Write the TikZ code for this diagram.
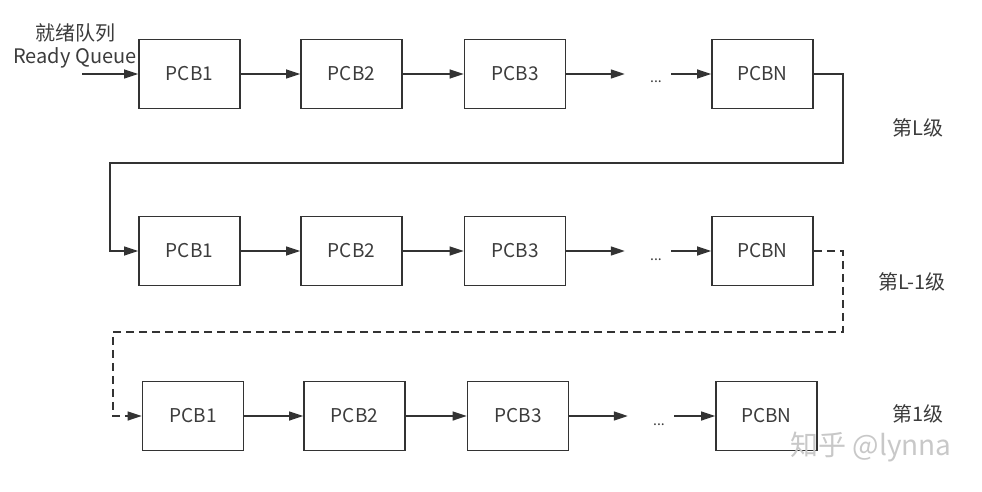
\documentclass[tikz,border=0pt]{standalone}
\usepackage{fontspec}
\setmainfont{Noto Sans CJK SC}
\usetikzlibrary{arrows.meta}
\definecolor{mgray}{HTML}{333333}
\definecolor{tgray}{HTML}{3C3C3C}
\definecolor{wgray}{HTML}{C8C8C8}
\tikzset{
  pcb/.style={draw=mgray, line width=1.6pt, minimum width=101pt, minimum height=69pt, inner sep=0pt, text=tgray, font=\fontsize{19}{22}\selectfont},
  link/.style={draw=mgray, line width=1.3pt, -{Triangle[length=14pt,width=9pt]}},
  ellip/.style={minimum width=30pt, inner sep=0pt, text height=18pt, text depth=0pt, text=tgray, font=\fontsize{14}{16}\selectfont},
  level/.style={text=tgray, font=\fontsize{20}{24}\selectfont},
}

\begin{document}
\begin{tikzpicture}[x=1pt, y=-1pt]
  \useasboundingbox (0,0) rectangle (982,492);

  % level L
  \node[level, align=center] (rq) at (75,46) {就绪队列\\[-1pt]Ready Queue};
  \coordinate (in) at (82,74);
  \node[pcb] (b11) at (189.5,74) {PCB1};
  \node[pcb] (b12) at (351.5,74) {PCB2};
  \node[pcb] (b13) at (515,74) {PCB3};
  \node[ellip] (d1) at (656,74) {...};
  \node[pcb] (b1N) at (762.5,74) {PCBN};
  \node[level] (lv1) at (918,128) {第L级};

  \draw[link] (in) -- (b11);
  \draw[link] (b11) -- (b12);
  \draw[link] (b12) -- (b13);
  \draw[link, shorten >=16pt] (b13) -- (d1);
  \draw[link] (d1) -- (b1N);

  % level L-1
  \node[pcb] (b21) at (189.5,251) {PCB1};
  \node[pcb] (b22) at (351.5,251) {PCB2};
  \node[pcb] (b23) at (515,251) {PCB3};
  \node[ellip] (d2) at (656,251) {...};
  \node[pcb] (b2N) at (762.5,251) {PCBN};
  \node[level] (lv2) at (912,282) {第L-1级};

  \coordinate (r1) at (843,163);
  \coordinate (l1) at (110,163);
  \draw[link] (b1N.east) -| (r1) -- (l1) |- (b21.west);

  \draw[link] (b21) -- (b22);
  \draw[link] (b22) -- (b23);
  \draw[link, shorten >=16pt] (b23) -- (d2);
  \draw[link] (d2) -- (b2N);

  % level 1
  \node[pcb] (b31) at (193,416) {PCB1};
  \node[pcb] (b32) at (354.5,416) {PCB2};
  \node[pcb] (b33) at (518,416) {PCB3};
  \node[ellip] (d3) at (659,416) {...};
  \node[pcb] (b3N) at (766.5,416) {PCBN};
  \node[level] (lv3) at (918,414) {第1级};

  \coordinate (r2) at (843,332);
  \coordinate (l2) at (113,332);
  \draw[link, dash pattern=on 8pt off 5pt] (b2N.east) -| (r2) -- (l2) |- (b31.west);

  \draw[link] (b31) -- (b32);
  \draw[link] (b32) -- (b33);
  \draw[link, shorten >=16pt] (b33) -- (d3);
  \draw[link] (d3) -- (b3N);

  \node[text=wgray, font=\fontsize{28}{30}\selectfont] (wm) at (871,447) {知乎 @lynna};
\end{tikzpicture}
\end{document}
